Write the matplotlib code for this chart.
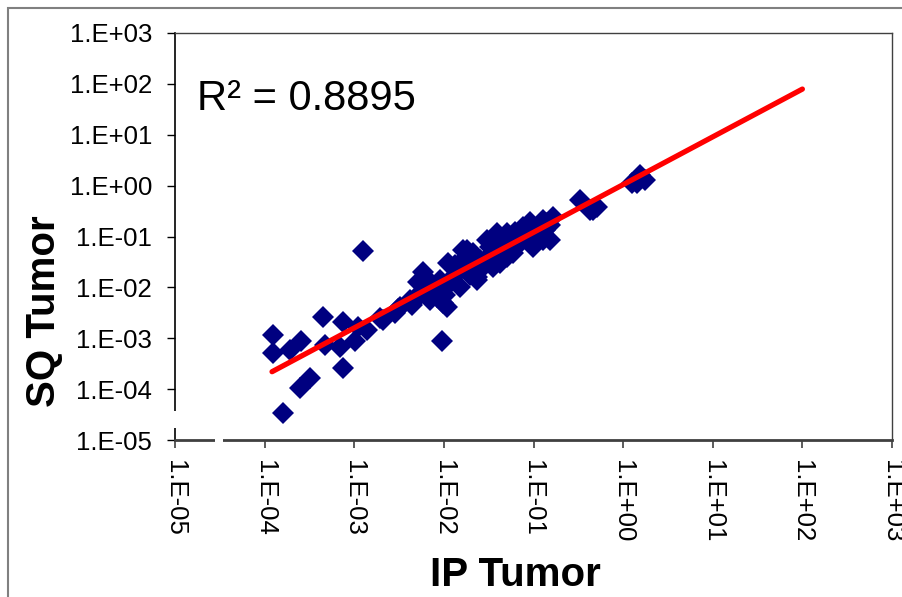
import math

import matplotlib
matplotlib.use("Agg")
import matplotlib.pyplot as plt
from matplotlib.patches import Rectangle
from matplotlib.ticker import FixedLocator, FuncFormatter, NullLocator

plt.rcParams['font.family'] = ['Liberation Sans', 'DejaVu Sans']

# IP tumor (x) vs SQ tumor (y)
ip_tumor = [1.24e-4, 1.24e-4, 1.60e-4, 1.92e-4, 2.55e-4, 2.48e-4, 3.21e-4, 4.49e-4,
            4.72e-4, 6.95e-4, 7.50e-4, 7.50e-4, 1.02e-3, 1.10e-3, 1.25e-3, 1.39e-3,
            1.94e-3, 2.09e-3, 2.85e-3, 3.08e-3, 3.24e-3, 4.42e-3, 4.53e-3, 5.15e-3,
            5.86e-3, 6.50e-3, 7.02e-3, 8.39e-3, 9.55e-3, 9.79e-3, 1.09e-2, 1.11e-2,
            1.33e-2, 1.52e-2, 1.64e-2, 1.82e-2, 1.82e-2, 2.12e-2, 2.35e-2, 2.35e-2,
            2.54e-2, 3.28e-2, 3.54e-2, 3.93e-2, 3.93e-2, 4.24e-2, 4.24e-2, 5.07e-2,
            5.07e-2, 5.48e-2, 5.92e-2, 7.66e-2, 9.16e-2, 9.91e-2, 0.119, 0.128,
            0.128, 0.142, 0.153, 0.166, 0.331, 0.429, 0.462, 0.513,
            1.26, 1.43, 1.55, 1.76,
            7.98e-3, 9.08e-3, 1.17e-2, 1.33e-2, 1.73e-2, 1.96e-2, 2.88e-2, 3.03e-2,
            3.72e-2, 4.58e-2, 6.24e-2, 6.73e-2, 8.05e-2, 0.104, 0.110, 0.135,
            0.153, 4.82e-2, 2.54e-2, 1.96e-2, 1.52e-2, 1.03e-2, 7.02e-3, 5.15e-3,
            4.20e-3]
sq_tumor = [1.16e-3, 5.13e-4, 3.40e-5, 5.87e-4, 8.83e-4, 1.05e-4, 1.66e-4, 2.62e-3,
            7.36e-4, 6.73e-4, 2.08e-3, 2.60e-4, 8.83e-4, 1.66e-3, 5.19e-2, 1.45e-3,
            2.50e-3, 2.29e-3, 3.13e-3, 3.76e-3, 4.11e-3, 4.51e-3, 5.16e-3, 1.28e-2,
            2.00e-2, 8.87e-3, 1.28e-2, 6.47e-3, 8.83e-4, 4.93e-3, 4.11e-3, 3.01e-2,
            1.75e-2, 1.02e-2, 5.43e-2, 2.51e-2, 5.43e-2, 4.74e-2, 1.60e-2, 1.40e-2,
            3.45e-2, 6.22e-2, 2.51e-2, 8.53e-2, 0.117, 3.01e-2, 9.77e-2, 0.117,
            3.95e-2, 8.53e-2, 4.74e-2, 0.154, 0.193, 6.22e-2, 0.117, 0.211,
            8.53e-2, 0.184, 8.53e-2, 0.242, 0.521, 0.332, 0.332, 0.380,
            1.13, 1.13, 1.62, 1.29,
            8.87e-3, 1.40e-2, 1.22e-2, 2.75e-2, 3.78e-2, 1.75e-2, 3.45e-2, 8.53e-2,
            5.43e-2, 6.81e-2, 0.122, 6.81e-2, 0.107, 0.147, 8.53e-2, 0.134,
            0.168, 5.94e-2, 2.20e-2, 3.15e-2, 2.20e-2, 7.08e-3, 5.65e-3, 7.08e-3,
            5.65e-3]

# power trendline end points and its R squared
trend_x = [1.21e-4, 100.0]
trend_y = [2.2e-4, 79.0]
r_squared = 0.8895

decades = [1e-5, 1e-4, 1e-3, 1e-2, 1e-1, 1e0, 1e1, 1e2, 1e3]


def excel_sci(v, pos):
    # Excel style "1.E+03"
    exp = int(round(math.log10(v)))
    return "1.E" + format(exp, '+03d')


fig = plt.figure(figsize=(9.03, 5.97), dpi=100)
ax = fig.add_axes([175 / 903, 1 - 440 / 597, 717 / 903, 407 / 597])

ax.plot(ip_tumor, sq_tumor, linestyle='none', marker='D', markersize=11.5,
        color='#000080', markeredgewidth=0, zorder=3)
ax.plot(trend_x, trend_y, color='#ff0000', linewidth=3.8,
        solid_capstyle='round', zorder=4)

ax.set_xscale('log')
ax.set_yscale('log')
ax.set_xlim(1e-5, 1e3)
ax.set_ylim(1e-5, 1e3)
for axis in (ax.xaxis, ax.yaxis):
    axis.set_major_locator(FixedLocator(decades))
    axis.set_minor_locator(NullLocator())
    axis.set_major_formatter(FuncFormatter(excel_sci))

ax.tick_params(axis='y', direction='out', length=5.5, width=1, color='black',
               labelsize=18.5, pad=11)
ax.tick_params(axis='x', direction='out', length=5.5, width=1.2, color='#404040',
               labelsize=18.5, pad=9, labelrotation=-90)

ax.spines['left'].set_color('black')
ax.spines['left'].set_linewidth(1.2)
ax.spines['bottom'].set_color('#404040')
ax.spines['bottom'].set_linewidth(2)
for side in ('top', 'right'):
    ax.spines[side].set_color('#404040')
    ax.spines[side].set_linewidth(1)

# axis breaks near the origin corner
ax.plot([0, 0], [0.0295, 0.0713], transform=ax.transAxes, color='white',
        linewidth=4, clip_on=False, zorder=10, solid_capstyle='butt')
ax.plot([0.0558, 0.067], [0, 0], transform=ax.transAxes, color='white',
        linewidth=4, clip_on=False, zorder=10, solid_capstyle='butt')

ax.text((197 - 175) / 717, 1 - (110 - 33) / 407, "R² = {:.4f}".format(r_squared),
        transform=ax.transAxes, fontsize=30, ha='left', va='baseline')

fig.text(515 / 903, 1 - 575 / 597, "IP Tumor", fontsize=29, fontweight='bold',
         ha='center', va='center')
fig.text(44 / 903, 1 - 311 / 597, "SQ Tumor", fontsize=29, fontweight='bold',
         rotation=90, ha='center', va='center')

# outer chart border (clipped at right and bottom)
fig.patches.append(Rectangle((8 / 903, -0.1), 1.2, 1 - 8 / 597 + 0.1,
                             transform=fig.transFigure, fill=False,
                             edgecolor='#808080', linewidth=1.5))

fig.savefig("out.png", dpi=100)
